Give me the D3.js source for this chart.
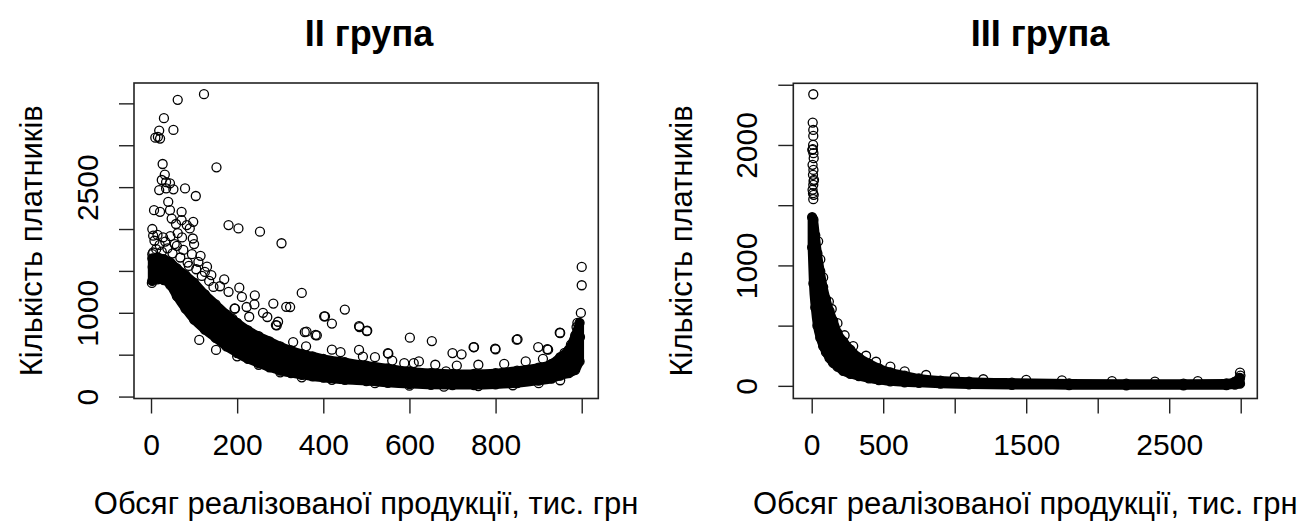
<!DOCTYPE html>
<html>
<head>
<meta charset="utf-8">
<script src="https://cdn.jsdelivr.net/npm/d3@7/dist/d3.min.js"></script>
<style>
  html, body { margin: 0; padding: 0; background: #ffffff; }
  svg { display: block; }
  text { font-family: "Liberation Sans", Arial, sans-serif; fill: #000; }
</style>
</head>
<body>
<div id="chart"></div>
<script>
// ---- data ----
// II група: dense core of the cloud (lower / upper edge of circle centres)
const groupIIBandX    = [3, 15, 30, 45, 60, 80, 100, 125, 150, 175, 200, 225, 250, 275, 300, 325, 350, 375, 400, 450, 500, 550, 600, 650, 700, 750, 800, 850, 900, 930, 950, 970, 985, 995];
const groupIIBandLow  = [1380, 1400, 1390, 1330, 1200, 1050, 920, 800, 700, 600, 520, 450, 400, 350, 310, 280, 260, 240, 225, 200, 185, 165, 150, 140, 138, 138, 145, 160, 190, 215, 250, 280, 320, 420];
const groupIIBandHigh = [1650, 1660, 1640, 1600, 1530, 1450, 1360, 1220, 1100, 980, 880, 790, 720, 660, 600, 550, 510, 480, 450, 410, 370, 335, 300, 280, 270, 270, 280, 310, 345, 390, 470, 560, 730, 880];

// II група: single points outside the core
const groupIIX = [62, 123, 30, 52, 19, 10, 16, 21, 152, 27, 32, 35, 25, 44, 19, 35, 52, 79, 104, 40, 7, 21, 44, 71, 48, 71, 98, 90, 83, 97,
  180, 203, 253, 303, 5, 15, 28, 45, 3, 4, 2, 110, 125, 145, 160, 211, 241, 222, 195, 284, 323, 350, 404, 357, 385, 292,
  1000, 1000, 998, 988, 996, 950, 899, 922, 849, 799, 750, 700, 721, 652, 601, 551, 501, 484, 450, 420, 402, 314, 361, 382,
  483, 502, 749, 800, 851, 920, 949, 483, 492, 550, 588, 622, 685, 189, 223, 194, 228, 290, 295, 112, 151,
  60, 75, 95, 115, 130, 140, 170, 180, 205, 260, 270, 240,
  330, 360, 420, 440, 520, 560, 610, 660, 710, 760, 820, 870, 910, 960, 975, 990, 993,
  200, 250, 300, 350, 420, 520, 600, 680, 760, 840, 900, 950,
  5, 12, 25, 38, 50, 20, 8, 33, 55, 68, 85, 62, 3, 58, 88, 105, 118, 135, 72, 100];
const groupIIY = [3542, 3610, 3323, 3183, 3175, 3090, 3100, 3080, 2737, 2776, 2650, 2560, 2585, 2545, 2465, 2485, 2474, 2485, 2394, 2325, 2225, 2205, 2225, 2205, 2125, 2106, 2086, 2007, 2047, 1887,
  2047, 2007, 1968, 1830, 1920, 1930, 1900, 1915, 1700, 1548, 1357, 1608, 1488, 1309, 1317, 1189, 1209, 1069, 1050, 1110, 1069, 1237, 958, 770, 731, 850,
  1548, 1329, 998, 830, 711, 759, 591, 560, 679, 572, 591, 519, 504, 663, 703, 512, 782, 830, 1038, 871, 958, 1071, 775, 735,
  842, 787, 589, 565, 684, 565, 763, 557, 478, 518, 399, 419, 300, 930, 750, 1051, 953, 854, 893, 676, 557,
  1800, 1750, 1700, 1680, 1550, 1450, 1400, 1250, 1300, 1000, 950, 1100,
  650, 600, 560, 530, 470, 430, 400, 380, 370, 380, 390, 420, 450, 520, 620, 880, 760,
  480, 380, 290, 230, 200, 160, 130, 118, 125, 135, 160, 195,
  1720, 1760, 1730, 1770, 1710, 1810, 1860, 1850, 1820, 1660, 1600, 1950, 2000, 2060, 1560, 1520, 1440, 1380, 1900, 1820];

// III група: dense core
const groupIIIBandX    = [3, 12, 25, 40, 60, 80, 100, 125, 150, 180, 220, 270, 330, 400, 470, 550, 650, 750, 900, 1100, 1400, 1800, 2200, 2600, 2900, 2960, 2995];
const groupIIIBandLow  = [1150, 850, 650, 500, 400, 330, 280, 230, 190, 160, 125, 100, 80, 62, 48, 38, 30, 25, 18, 12, 8, 6, 5, 5, 6, 10, 18];
const groupIIIBandHigh = [1400, 1380, 1250, 1100, 950, 820, 720, 620, 540, 440, 370, 300, 235, 185, 145, 112, 85, 62, 44, 34, 26, 20, 18, 18, 20, 35, 65];

// III група: single points outside the core
const groupIIIX = [11, 7, 11, 11, 10, 8, 12, 14, 6, 12, 9, 16, 11, 6, 14, 11, 4, 13, 9,
  140, 60, 45, 80, 120, 180, 230, 290, 380, 450, 550, 650, 800, 1000, 1200, 1500, 1750, 2100, 2400, 2700, 2995, 2998, 2990];
const groupIIIY = [2421, 2186, 2125, 2075, 2000, 1965, 1932, 1890, 1835, 1793, 1752, 1711, 1669, 1628, 1586, 1550, 1960, 1700, 1600,
  638, 1050, 1200, 900, 700, 520, 420, 330, 250, 200, 160, 120, 90, 70, 55, 50, 45, 40, 35, 40, 110, 85, 65];

// axes
const groupIIXTicks = [0, 200, 400, 600, 800, 1000];
const groupIIXLabels = [0, 200, 400, 600, 800];
const groupIIYTicks = [0, 500, 1000, 1500, 2000, 2500, 3000, 3500];
const groupIIYLabels = [0, 1000, 2500];
const groupIIIXTicks = [0, 500, 1000, 1500, 2000, 2500, 3000];
const groupIIIXLabels = [0, 500, 1500, 2500];
const groupIIIYTicks = [0, 500, 1000, 1500, 2000, 2500];
const groupIIIYLabels = [0, 1000, 2000];

const xTitle = "Обсяг реалізованої продукції, тис. грн";
const yTitle = "Кількість платників";

const width = 1301, height = 525;
const svg = d3.select("#chart").append("svg")
    .attr("width", width)
    .attr("height", height);
svg.append("rect").attr("width", width).attr("height", height).attr("fill", "#fff");

const R = 4.5;

function drawPanel(p) {
    const x = d3.scaleLinear().domain(p.xDomain).range([p.left, p.right]);
    const y = d3.scaleLinear().domain(p.yDomain).range([p.bottom, p.top]);
    const g = svg.append("g");

    // dense core drawn as an area (stroke widened by one circle radius)
    const band = p.bandX.map((d, i) => ({ x: d, lo: p.bandLow[i], hi: p.bandHigh[i] }));
    const area = d3.area()
        .x(d => x(d.x))
        .y0(d => y(d.lo))
        .y1(d => y(d.hi))
        .curve(d3.curveMonotoneX);
    g.append("path")
        .datum(band)
        .attr("d", area)
        .attr("fill", "#000")
        .attr("stroke", "#000")
        .attr("stroke-width", R * 2)
        .attr("stroke-linejoin", "round");

    // circles on the edges of the core + the loose points
    const edge = band.flatMap(d => [[d.x, d.lo], [d.x, d.hi]]);
    const pts = p.xs.map((d, i) => [d, p.ys[i]]);
    g.selectAll("circle.pt")
        .data(edge.concat(pts))
        .enter()
        .append("circle")
        .attr("class", "pt")
        .attr("cx", d => x(d[0]))
        .attr("cy", d => y(d[1]))
        .attr("r", R)
        .attr("fill", "none")
        .attr("stroke", "#000")
        .attr("stroke-width", 1.3);

    // box
    g.append("rect")
        .attr("x", p.left).attr("y", p.top)
        .attr("width", p.right - p.left).attr("height", p.bottom - p.top)
        .attr("fill", "none").attr("stroke", "#222").attr("stroke-width", 1.6);

    // x axis
    const xa = d3.axisBottom(x).tickValues(p.xTicks).tickSize(15)
        .tickFormat(d => p.xLabels.includes(d) ? d : "");
    const gx = g.append("g").attr("transform", `translate(0,${p.bottom})`).call(xa);
    gx.select(".domain").remove();
    gx.selectAll(".tick line").attr("stroke", "#222").attr("stroke-width", 1.4);
    gx.selectAll(".tick text").attr("font-size", 30).attr("dy", 0).attr("y", 56)
        .style("font-family", "'Liberation Sans', Arial, sans-serif").attr("fill", "#000");

    // y axis (labels parallel to axis, as in R)
    const ya = d3.axisLeft(y).tickValues(p.yTicks).tickSize(15)
        .tickFormat(d => p.yLabels.includes(d) ? d : "");
    const gy = g.append("g").attr("transform", `translate(${p.left},0)`).call(ya);
    gy.select(".domain").remove();
    gy.selectAll(".tick line").attr("stroke", "#222").attr("stroke-width", 1.4);
    gy.selectAll(".tick text")
        .attr("font-size", 30)
        .attr("x", null).attr("dy", null)
        .attr("transform", "translate(-36,0) rotate(-90)")
        .attr("text-anchor", "middle")
        .style("font-family", "'Liberation Sans', Arial, sans-serif").attr("fill", "#000");

    // titles
    g.append("text")
        .attr("x", p.titleX).attr("y", 46)
        .attr("text-anchor", "middle")
        .attr("font-size", 36).attr("font-weight", "bold")
        .text(p.title);
    g.append("text")
        .attr("x", (p.left + p.right) / 2).attr("y", 514)
        .attr("text-anchor", "middle")
        .attr("font-size", 31)
        .text(xTitle);
    g.append("text")
        .attr("transform", `translate(${p.yTitleX},${(p.top + p.bottom) / 2}) rotate(-90)`)
        .attr("text-anchor", "middle")
        .attr("font-size", 31)
        .text(yTitle);
}

drawPanel({
    title: "II група", titleX: 369,
    left: 134, right: 598.3, top: 83, bottom: 398.5,
    xDomain: [-39.5, 1038.5], yDomain: [-23, 3743],
    bandX: groupIIBandX, bandLow: groupIIBandLow, bandHigh: groupIIBandHigh,
    xs: groupIIX, ys: groupIIY,
    xTicks: groupIIXTicks, xLabels: groupIIXLabels,
    yTicks: groupIIYTicks, yLabels: groupIIYLabels,
    yTitleX: 41.5
});

drawPanel({
    title: "III група", titleX: 1040,
    left: 793.3, right: 1257.3, top: 83.3, bottom: 398.5,
    xDomain: [-128.7, 3116], yDomain: [-105, 2512],
    bandX: groupIIIBandX, bandLow: groupIIIBandLow, bandHigh: groupIIIBandHigh,
    xs: groupIIIX, ys: groupIIIY,
    xTicks: groupIIIXTicks, xLabels: groupIIIXLabels,
    yTicks: groupIIIYTicks, yLabels: groupIIIYLabels,
    yTitleX: 692
});
</script>
</body>
</html>
